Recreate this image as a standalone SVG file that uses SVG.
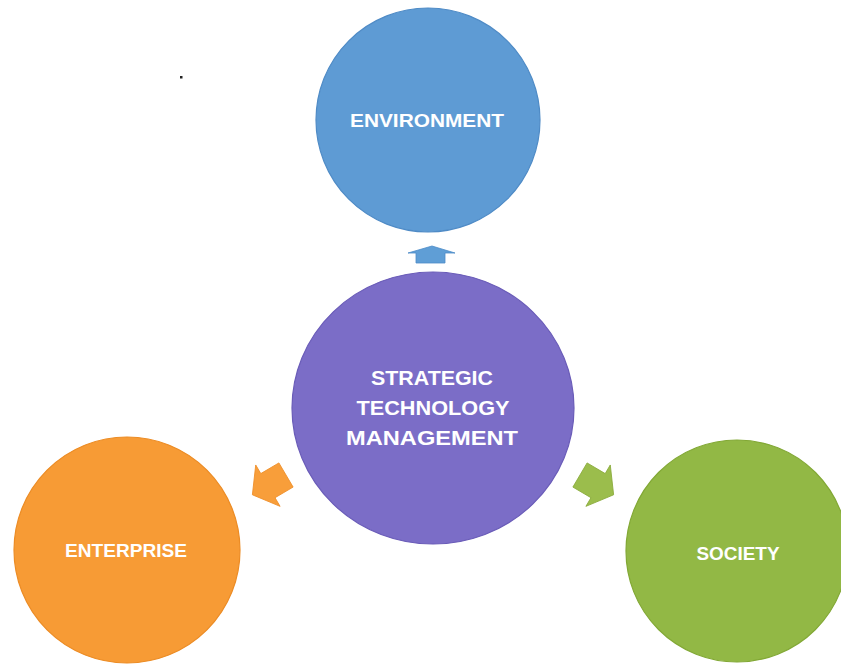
<svg xmlns="http://www.w3.org/2000/svg" width="841" height="665" viewBox="0 0 841 665">
<style>
.lbl{font-family:"Liberation Sans","Open Sans",Arial,sans-serif;font-weight:bold;fill:#ffffff;text-anchor:middle}
.sm{font-size:18.5px}
.lg{font-size:21px}
</style>
<defs>
<polygon id="arr" points="0,-14 21,-14 21,-24 39,0 21,24 21,14 0,14"/>
</defs>
<rect width="841" height="665" fill="#ffffff"/>
<rect x="180" y="76" width="2.5" height="2.5" fill="#222"/>
<g id="connectors">
<polygon points="432,246 455,253 445,253 445,263 416,263 416,253 408,253" fill="#5f9ed6" stroke="#4d8cc8" stroke-width="0.8"/>
<use href="#arr" transform="translate(286,475) rotate(149.5)" fill="#f89e3a" stroke="#ee8f2a" stroke-width="0.8"/>
<use href="#arr" transform="translate(580,475) rotate(30.5)" fill="#9bbd4c" stroke="#8aab3c" stroke-width="0.8"/>
</g>
<g id="environment">
<circle cx="428" cy="120" r="112" fill="#5e9bd4" stroke="#4f8bc6" stroke-width="1.2"/>
<text class="lbl sm" x="427" y="127" textLength="154" lengthAdjust="spacingAndGlyphs">ENVIRONMENT</text>
</g>
<g id="stm">
<ellipse cx="433" cy="408" rx="141" ry="136" fill="#7b6dc7" stroke="#6a5cb8" stroke-width="1.2"/>
<text class="lbl lg" x="432" y="385" textLength="122" lengthAdjust="spacingAndGlyphs">STRATEGIC</text>
<text class="lbl lg" x="433" y="415" textLength="153" lengthAdjust="spacingAndGlyphs">TECHNOLOGY</text>
<text class="lbl lg" x="432" y="445" textLength="172" lengthAdjust="spacingAndGlyphs">MANAGEMENT</text>
</g>
<g id="enterprise">
<circle cx="127" cy="550" r="113" fill="#f79b35" stroke="#ec8c25" stroke-width="1.2"/>
<text class="lbl sm" x="126" y="557" textLength="122" lengthAdjust="spacingAndGlyphs">ENTERPRISE</text>
</g>
<g id="society">
<circle cx="737" cy="551" r="111" fill="#92b845" stroke="#82a835" stroke-width="1.2"/>
<text class="lbl sm" x="738" y="560" textLength="83" lengthAdjust="spacingAndGlyphs">SOCIETY</text>
</g>
</svg>
